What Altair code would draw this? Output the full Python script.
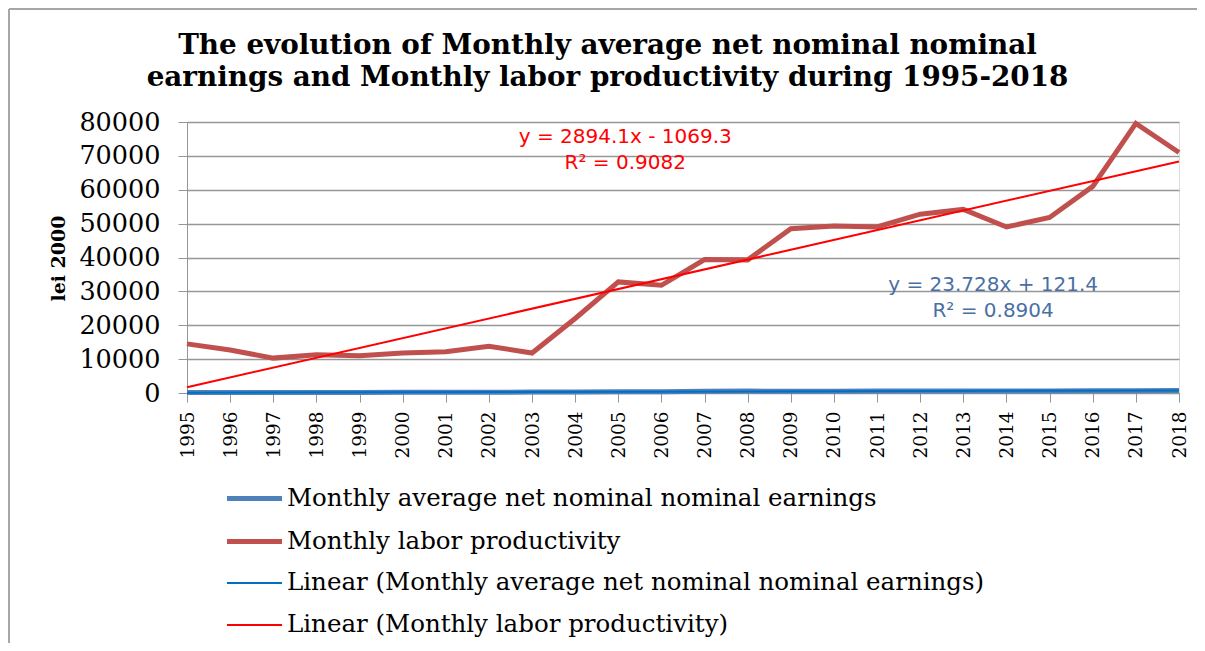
import altair as alt
import pandas as pd

years = list(range(1995, 2019))
earnings = [135, 145, 150, 160, 175, 190, 215, 245, 265, 305, 355, 405,
            495, 555, 535, 545, 565, 575, 595, 585, 625, 655, 690, 735]
productivity = [14500, 12700, 10300, 11300, 11000, 11800, 12200, 13800, 11800, 22000, 32800, 31800,
                39400, 39300, 48500, 49300, 49000, 52800, 54200, 49000, 51800, 61000, 79600, 71000]

series_names = ["Monthly average net nominal nominal earnings", "Monthly labor productivity"]
trend_names = ["Linear (Monthly average net nominal nominal earnings)", "Linear (Monthly labor productivity)"]
legend_order = series_names + trend_names
colors = ["#4F81BD", "#C0504D", "#0070C0", "#FF0000"]
widths = [5, 5, 2, 2]

y_ticks = list(range(0, 80001, 10000))

title_lines = ["The evolution of Monthly average net nominal nominal",
               "earnings and Monthly labor productivity during 1995-2018"]

red_text = ["y = 2894.1x - 1069.3", "R² = 0.9082"]
red_year = [2005.16, 2005.16]
red_value = [75500, 67840]
blue_text = ["y = 23.728x + 121.4", "R² = 0.8904"]
blue_year = [2013.69, 2013.69]
blue_value = [31900, 24250]

df = pd.DataFrame({
    "year": years * 2,
    "value": earnings + productivity,
    "series": [series_names[0]] * len(years) + [series_names[1]] * len(years),
})

SERIF = "DejaVu Serif"
GRAY = "#969696"

color_scale = alt.Scale(domain=legend_order, range=colors)
sw_scale = alt.Scale(type="ordinal", domain=legend_order, range=widths)

legend = alt.Legend(
    title=None, orient="none", legendX=51, legendY=360, direction="vertical",
    symbolType="M-2,0H2", symbolSize=756, labelFont=SERIF, labelFontSize=24.5,
    labelColor="#000000", labelOffset=16, rowPadding=15, padding=0, labelLimit=1000,
)

x_axis = alt.Axis(values=years, format="d", labelAngle=270, grid=False, tickSize=9,
                  labelPadding=9, labelFont=SERIF, labelFontSize=18.5, labelColor="#000000",
                  domainColor=GRAY, tickColor=GRAY, title=None, labelOverlap=False)
y_axis = alt.Axis(values=y_ticks, format="d", grid=True, gridColor=GRAY, gridWidth=1.3,
                  tickSize=9, labelPadding=18, labelFont=SERIF, labelFontSize=25.5,
                  labelColor="#000000", domainColor=GRAY, tickColor=GRAY, labelOverlap=False,
                  title="lei 2000", titleFont=SERIF, titleFontSize=19, titleFontWeight="bold",
                  titleColor="#000000", titleX=-129, titleY=136, titleBaseline="middle",
                  titleAlign="center", titleAngle=270)
x_scale = alt.Scale(domain=[1995, 2018], nice=False, zero=False)
y_scale = alt.Scale(domain=[0, 80000], nice=False)


def x_enc():
    return alt.X("year:Q", scale=x_scale, axis=x_axis)


def y_enc():
    return alt.Y("value:Q", scale=y_scale, axis=y_axis)


base = alt.Chart(df)

lines = base.mark_line(strokeJoin="miter").encode(
    x=x_enc(), y=y_enc(),
    color=alt.Color("series:N", scale=color_scale, legend=legend),
    strokeWidth=alt.StrokeWidth("series:N", scale=sw_scale, legend=legend),
    detail="series:N",
)

trends = base.transform_regression("year", "value", groupby=["series"]).transform_calculate(
    series="'Linear (' + datum.series + ')'"
).mark_line().encode(
    x=x_enc(), y=y_enc(),
    color=alt.Color("series:N", scale=color_scale, legend=legend),
    strokeWidth=alt.StrokeWidth("series:N", scale=sw_scale, legend=legend),
)

red_df = pd.DataFrame({"year": red_year, "value": red_value, "t": red_text})
blue_df = pd.DataFrame({"year": blue_year, "value": blue_value, "t": blue_text})

red_ann = alt.Chart(red_df).mark_text(font="DejaVu Sans", fontSize=20, color="#FF0000",
                                      align="center", baseline="middle").encode(
    x=x_enc(), y=y_enc(), text="t:N")
blue_ann = alt.Chart(blue_df).mark_text(font="DejaVu Sans", fontSize=20, color="#4A6FA5",
                                        align="center", baseline="middle").encode(
    x=x_enc(), y=y_enc(), text="t:N")

frame_data = alt.Data(values=[{"k": 1}])
top_border = alt.Chart(frame_data).mark_rule(color="#A6A6A6", strokeWidth=2).encode(
    x=alt.value(-178), x2=alt.value(1010), y=alt.value(-113))
left_border = alt.Chart(frame_data).mark_rule(color="#A6A6A6", strokeWidth=2).encode(
    x=alt.value(-178), y=alt.value(-113), y2=alt.value(521))

title_mark = alt.Chart(frame_data).mark_text(
    font=SERIF, fontSize=27.8, fontWeight="bold", color="#000000",
    align="center", baseline="middle", lineHeight=32,
).encode(x=alt.value(420.5), y=alt.value(-76), text=alt.value(title_lines))

chart = alt.layer(lines, trends, red_ann, blue_ann, top_border, left_border, title_mark).properties(
    width=992, height=271,
    autosize=alt.AutoSizeParams(type="none"),
    padding={"left": 179, "top": 114, "right": 18, "bottom": 250},
).configure_view(stroke=None).configure(background="#FFFFFF")

chart.save("out.html", embed_options={"renderer": "svg", "actions": False})
